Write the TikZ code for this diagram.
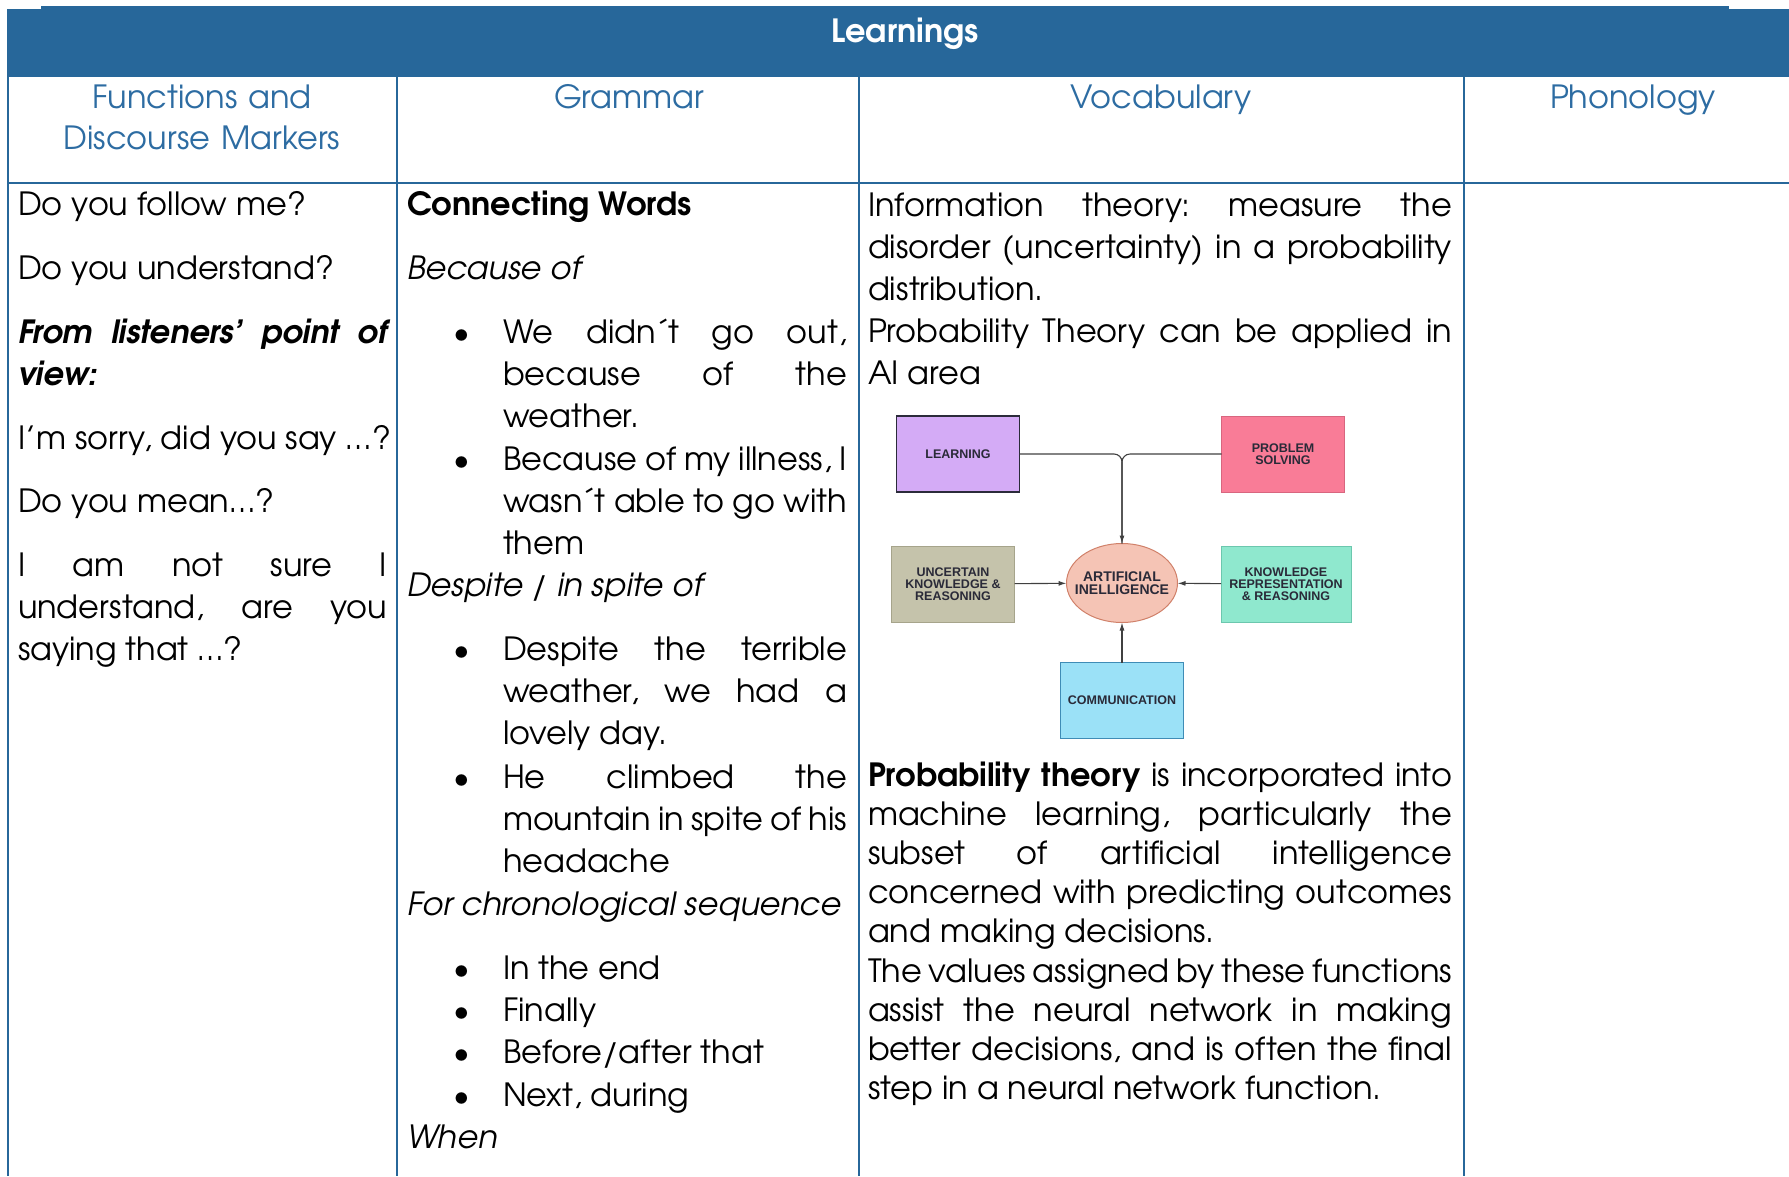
\documentclass[tikz,border=0pt]{standalone}
\usepackage{fontspec}
\setmainfont{TeX Gyre Adventor}
\newfontfamily\boxfont{Liberation Sans}
\usetikzlibrary{positioning, arrows.meta, shapes.geometric}
\frenchspacing

\definecolor{tableblue}{HTML}{27679A}
\definecolor{headtext}{HTML}{2D6CA2}
\definecolor{learnfill}{HTML}{D4ABF6}
\definecolor{learndraw}{HTML}{2B2B3A}
\definecolor{probfill}{HTML}{F97C97}
\definecolor{probdraw}{HTML}{D8667F}
\definecolor{uncfill}{HTML}{C5C3AB}
\definecolor{uncdraw}{HTML}{A6A48B}
\definecolor{krfill}{HTML}{8FE8CE}
\definecolor{krdraw}{HTML}{6CC7AE}
\definecolor{commfill}{HTML}{9BE1F7}
\definecolor{commdraw}{HTML}{3F8CB6}
\definecolor{aifill}{HTML}{F5C4B5}
\definecolor{aidraw}{HTML}{D08069}
\definecolor{boxtext}{HTML}{2A2A38}

\tikzset{
    x=1pt, y=-1pt, % one unit is one pixel of the page, y grows downwards
    every node/.style={inner sep=0pt, outer sep=0pt},
    body/.style={anchor=base west, align=justify, font=\fontsize{32}{42}\selectfont},
    headcell/.style={anchor=base, align=center, text=headtext, font=\fontsize{32}{41}\selectfont},
    dot/.style={anchor=base, font=\fontsize{32}{42}\selectfont},
    rule/.style={draw=tableblue, line width=2pt},
    aibox/.style={draw, line width=1pt, minimum width=123pt, minimum height=76pt, align=center, text=boxtext, font=\boxfont\bfseries\fontsize{12.5}{11.8}\selectfont},
    link/.style={draw=black!75, line width=1.1pt, -{Latex[length=8pt,width=5pt]}},
}

\begin{document}
\begin{tikzpicture}
\useasboundingbox (0,0) rectangle (1789,1176);

% header bar
\fill[tableblue] (7,9) rectangle (1789,77);
\fill[tableblue] (41,6) rectangle (1729,9);
\node[anchor=base, text=white, font=\bfseries\fontsize{32}{40}\selectfont] (title) at (905,42) {Learnings};

% grid
\foreach \x in {8,397,859,1464}
    \draw[rule] (\x,77) -- (\x,1176);
\draw[rule] (8,183) -- (1789,183);

% column heads
\node[headcell, text width=380] (hfun) at (202,108) {Functions and\\Discourse Markers};
\node[headcell] (hgram) at (629,108) {Grammar};
\node[headcell] (hvoc) at (1161,108) {Vocabulary};
\node[headcell] (hpho) at (1633,108) {Phonology};

% functions and discourse markers
\node[body] (q1) at (18,215) {Do you follow me?};
\node[body] (q2) at (18,279) {Do you understand?};
\node[body, text width=369] (q3) at (18,343) {\bfseries\itshape From listeners’ point of \linebreak view:};
\node[body] (q4) at (18,449) {I’m sorry, did you say …?};
\node[body] (q5) at (18,512) {Do you mean…?};
\node[body, text width=369] (q6) at (18,576) {I am not sure I \linebreak understand, are you \linebreak saying that …?};

% grammar
\node[body] (cw) at (407,215) {\bfseries Connecting Words};
\node[body] (because) at (407,279) {\itshape Because of};
\node[dot] (d1) at (462,343) {\textbullet};
\node[body, text width=344] (g1) at (503,343) {We didn´t go out, \linebreak because of the \linebreak weather.};
\node[dot] (d2) at (462,470) {\textbullet};
\node[body, text width=344] (g2) at (503,470) {Because of my illness, I \linebreak wasn´t able to go with \linebreak them};
\node[body] (despite) at (407,596) {\itshape Despite / in spite of};
\node[dot] (d3) at (462,660) {\textbullet};
\node[body, text width=344] (g3) at (503,660) {Despite the terrible \linebreak weather, we had a \linebreak lovely day.};
\node[dot] (d4) at (462,788) {\textbullet};
\node[body, text width=344] (g4) at (503,788) {He climbed the \linebreak mountain in spite of his \linebreak headache};
\node[body] (chrono) at (407,915) {\itshape For chronological sequence};
\foreach \y/\t [count=\i] in {979/In the end, 1021/Finally, 1063/Before\slash after that, 1106/{Next, during}} {
    \node[dot] (s\i) at (462,\y) {\textbullet};
    \node[body] (seq\i) at (503,\y) {\t};
}
\node[body] (when) at (407,1148) {\itshape When};

% vocabulary
\node[body, text width=584] (info) at (868,216) {Information theory: measure the \linebreak disorder (uncertainty) in a probability \linebreak distribution.};
\node[body, text width=584] (apply) at (868,342) {Probability Theory can be applied in \linebreak AI area};

\node[ellipse, draw=aidraw, fill=aifill, line width=1pt, minimum width=111pt, minimum height=79pt, inner xsep=-12pt, align=center, text=boxtext, font=\boxfont\bfseries\fontsize{14}{13}\selectfont] (ai) at (1122,583) {ARTIFICIAL\\INELLIGENCE};
\node[aibox, draw=learndraw, fill=learnfill, line width=1.6pt] (learn) at (958,454) {LEARNING};
\node[aibox, draw=probdraw, fill=probfill, right=202pt of learn] (prob) {PROBLEM\\SOLVING};
\node[aibox, draw=uncdraw, fill=uncfill, below=54pt of learn, xshift=-5pt] (unc) {UNCERTAIN\\KNOWLEDGE \&\\REASONING};
\node[aibox, draw=krdraw, fill=krfill, minimum width=130pt, below=54pt of prob, xshift=3pt] (kr) {KNOWLEDGE\\REPRESENTATION\\\& REASONING};
\node[aibox, draw=commdraw, fill=commfill, below=40pt of ai] (comm) {COMMUNICATION};

\draw[link, rounded corners=8pt] (learn.east) -| (ai.north);
\draw[draw=black!75, line width=1.1pt, rounded corners=8pt] (prob.west) -| (ai.north);
\draw[link] (unc) -- (ai);
\draw[link] (kr) -- (ai);
\draw[link] (comm) -- (ai);

\node[body, text width=584, font=\fontsize{32}{39.2}\selectfont] (pt1) at (868,786) {\textbf{Probability theory} is incorporated into \linebreak machine learning, particularly the \linebreak subset of artificial intelligence \linebreak concerned with predicting outcomes \linebreak and making decisions.};
\node[body, text width=584, font=\fontsize{32}{39.2}\selectfont] (pt2) at (868,982) {The values assigned by these functions \linebreak assist the neural network in making \linebreak better decisions, and is often the final \linebreak step in a neural network function.};
\end{tikzpicture}
\end{document}
